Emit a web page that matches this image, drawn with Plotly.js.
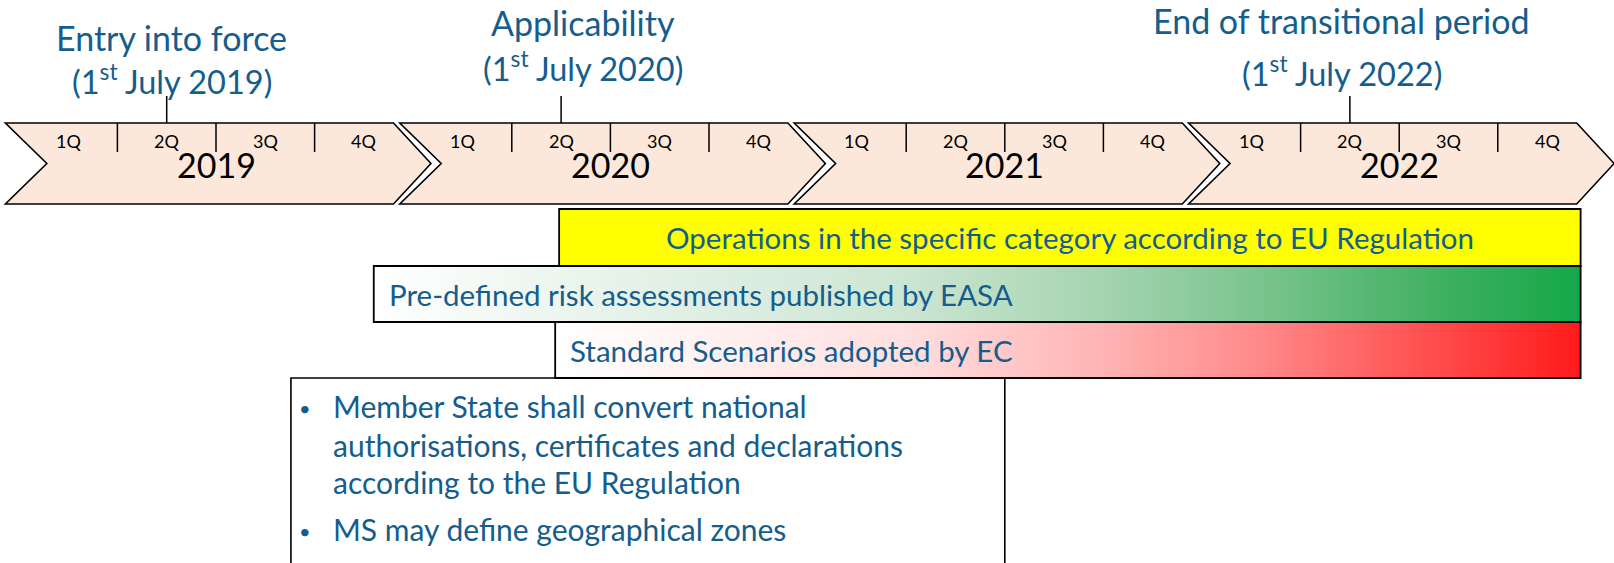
<!DOCTYPE html>
<html>
<head>
<meta charset="utf-8">
<script src="https://cdn.plot.ly/plotly-3.0.1.min.js"></script>
<style>html,body{margin:0;padding:0;background:#fff;}#chart{width:1614px;height:563px;}</style>
</head>
<body>
<div id="chart"></div>
<script>
// ---------------- data ----------------
const years = [2019, 2020, 2021, 2022];
const quarterLabels = ['1Q', '2Q', '3Q', '4Q'];

const milestoneTitles = ['Entry into force', 'Applicability', 'End of transitional period'];
const milestoneDates = ['(1<sup>st</sup> July 2019)', '(1<sup>st</sup> July 2020)', '(1<sup>st</sup> July 2022)'];
const milestonePos = [2019.375, 2020.375, 2022.375];

const barLabels = [
  'Operations in the specific category according to EU Regulation',
  'Pre-defined risk assessments published by EASA',
  'Standard Scenarios adopted by EC'
];
const barStart = [2020.37, 2019.90, 2020.36];
const barEnd = [2022.96, 2022.96, 2022.96];

const noteStart = 2019.69;
const noteEnd = 2021.50;
const noteBullets = [
  ['Member State shall convert national', 'authorisations, certificates and declarations', 'according to the EU Regulation'],
  ['MS may define geographical zones']
];

// ---------------- layout constants ----------------
const W = 1614, H = 563;
const X0 = 18.8, YEARPX = 394.4;           // px of 2019.0, px per year
const xMin = 2019 - X0 / YEARPX;
const xMax = 2019 + (W - X0) / YEARPX;

const FONT = 'Lato, "Open Sans", sans-serif';
const BLUE = '#145d8c';
const ARROW_FILL = '#fce8da';

const arrowTop = 123, arrowBot = 204, arrowMid = 163.5;
const divBot = 152;
const msLineTop = 96;
const rows = [[209, 266], [266, 322], [322, 378]];
const noteTop = 378, noteBottom = 600;

const shapes = [];
const annotations = [];
const traces = [];

// year chevrons
years.forEach(function (yr) {
  const L = yr - 0.034, N = yr + 0.071, R = yr + 0.95, T = yr + 1.045;
  shapes.push({
    type: 'path', xref: 'x', yref: 'y', layer: 'below',
    path: 'M' + L + ',' + arrowTop + ' L' + R + ',' + arrowTop + ' L' + T + ',' + arrowMid +
          ' L' + R + ',' + arrowBot + ' L' + L + ',' + arrowBot + ' L' + N + ',' + arrowMid + ' Z',
    fillcolor: ARROW_FILL, line: {color: '#000', width: 1.6}
  });
  // quarter dividers
  [0.25, 0.5, 0.75].forEach(function (q) {
    shapes.push({type: 'line', xref: 'x', yref: 'y', x0: yr + q, x1: yr + q, y0: arrowTop, y1: divBot,
      line: {color: '#000', width: 1.5}});
  });
  quarterLabels.forEach(function (ql, i) {
    annotations.push({x: yr + 0.125 + 0.25 * i, y: 141, xref: 'x', yref: 'y', text: ql, showarrow: false,
      font: {family: FONT, size: 18, color: '#000'}});
  });
  annotations.push({x: yr + 0.5, y: 164, xref: 'x', yref: 'y', text: String(yr), showarrow: false,
    font: {family: FONT, size: 34, color: '#000'}});
});

// milestones
const msTitleY = [37, 22, 20];
const msDateY = [79, 66, 71];
const msShift = [5, 22, -8];
milestonePos.forEach(function (p, i) {
  shapes.push({type: 'line', xref: 'x', yref: 'y', x0: p, x1: p, y0: msLineTop, y1: arrowTop,
    line: {color: '#000', width: 1.5}});
  annotations.push({x: p, y: msTitleY[i], xref: 'x', yref: 'y', text: milestoneTitles[i], showarrow: false,
    xshift: msShift[i], font: {family: FONT, size: 34, color: BLUE}});
  annotations.push({x: p, y: msDateY[i], xref: 'x', yref: 'y', text: milestoneDates[i], showarrow: false,
    xshift: msShift[i], font: {family: FONT, size: 32.5, color: BLUE}});
});

// bars
const gradients = [
  null,
  [[0, '#ffffff'], [0.19, '#e8f3eb'], [0.437, '#cde6d3'], [0.603, '#a5d4b0'], [0.727, '#7dc590'], [0.892, '#3daf5e'], [1, '#14a84a']],
  [[0, '#ffffff'], [0.336, '#ffe0e0'], [0.531, '#ffb4b4'], [0.678, '#ff8c8c'], [0.873, '#ff4747'], [1, '#ff1a1a']]
];
barLabels.forEach(function (lab, i) {
  const y0 = rows[i][0], y1 = rows[i][1];
  if (gradients[i]) {
    traces.push({
      type: 'scatter', mode: 'lines', hoverinfo: 'skip',
      x: [barStart[i], barEnd[i], barEnd[i], barStart[i], barStart[i]],
      y: [y0, y0, y1, y1, y0],
      fill: 'toself', line: {width: 0, color: 'rgba(0,0,0,0)'},
      fillgradient: {type: 'horizontal', colorscale: gradients[i]}
    });
    shapes.push({type: 'rect', xref: 'x', yref: 'y', x0: barStart[i], x1: barEnd[i], y0: y0, y1: y1,
      line: {color: '#000', width: 1.8}, fillcolor: 'rgba(0,0,0,0)'});
    annotations.push({x: barStart[i], y: (y0 + y1) / 2, xref: 'x', yref: 'y', text: lab, showarrow: false,
      xanchor: 'left', xshift: 13, font: {family: FONT, size: 29.5, color: BLUE}});
  } else {
    shapes.push({type: 'rect', xref: 'x', yref: 'y', x0: barStart[i], x1: barEnd[i], y0: y0, y1: y1,
      line: {color: '#000', width: 1.8}, fillcolor: '#ffff00'});
    annotations.push({x: (barStart[i] + barEnd[i]) / 2, y: (y0 + y1) / 2, xref: 'x', yref: 'y', text: lab,
      showarrow: false, font: {family: FONT, size: 29.5, color: BLUE}});
  }
});

// note box
shapes.push({type: 'rect', xref: 'x', yref: 'y', x0: noteStart, x1: noteEnd, y0: noteTop, y1: noteBottom,
  line: {color: '#000', width: 1.6}, fillcolor: 'rgba(0,0,0,0)'});
const lineY = [[406, 445, 482], [529]];
noteBullets.forEach(function (lines, b) {
  annotations.push({x: noteStart, y: lineY[b][0] + 2, xref: 'x', yref: 'y', text: '•', showarrow: false,
    xanchor: 'left', xshift: 6, font: {family: FONT, size: 20, color: BLUE}});
  lines.forEach(function (ln, j) {
    annotations.push({x: noteStart, y: lineY[b][j], xref: 'x', yref: 'y', text: ln, showarrow: false,
      xanchor: 'left', xshift: 40, font: {family: FONT, size: 30, color: BLUE}});
  });
});

const layout = {
  width: W, height: H,
  margin: {l: 0, r: 0, t: 0, b: 0, pad: 0},
  paper_bgcolor: '#ffffff', plot_bgcolor: '#ffffff',
  showlegend: false,
  xaxis: {range: [xMin, xMax], visible: false, fixedrange: true},
  yaxis: {range: [H, 0], visible: false, fixedrange: true},
  shapes: shapes,
  annotations: annotations
};

Plotly.newPlot('chart', traces, layout, {displayModeBar: false, staticPlot: true});
</script>
</body>
</html>
